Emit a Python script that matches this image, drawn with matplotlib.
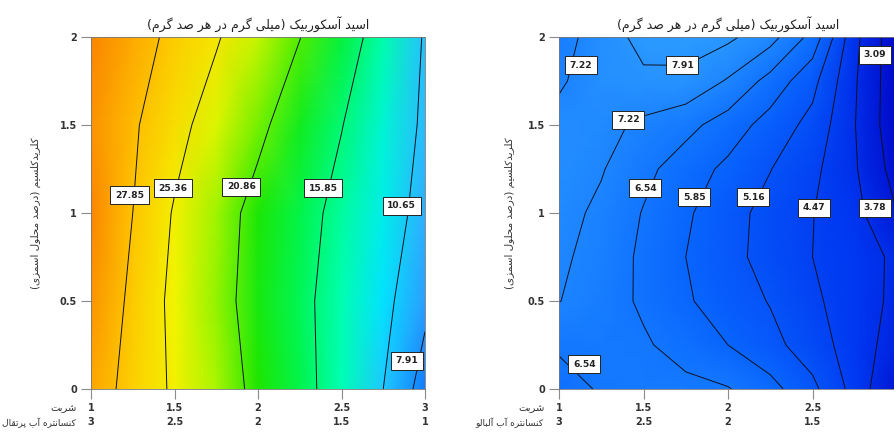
import matplotlib
matplotlib.use('Agg')
import matplotlib.pyplot as plt
import numpy as np
from matplotlib.colors import LinearSegmentedColormap, Normalize
from matplotlib import font_manager
from matplotlib.ft2font import FT2Font

# --- data ---
title_txt = 'اسید آسکوربیک (میلی گرم در هر صد گرم)'
ylabel_txt = 'کلریدکلسیم (درصد محلول اسمزی)'
row1_txt = 'شربت'
row2_left_txt = 'کنسانتره آب پرتقال'
row2_right_txt = 'کنسانتره آب آلبالو'

xticks = [1, 1.5, 2, 2.5, 3]
xticks_row2 = ['3', '2.5', '2', '1.5', '1']
yticks = [0, 0.5, 1, 1.5, 2]

x_grid = [1.0, 1.25, 1.5, 1.75, 2.0, 2.25, 2.5, 2.75, 3.0]

# left panel (orange juice concentrate)
y_left = [0.0, 0.5, 1.0, 1.5, 2.0]
z_left = [
    [29.05, 27.05, 24.98, 22.60, 20.04, 17.13, 13.99, 10.65, 6.80],
    [29.90, 27.33, 24.73, 22.10, 19.47, 16.81, 14.12, 11.42, 8.50],
    [30.55, 27.85, 25.14, 22.39, 19.76, 17.26, 14.73, 12.18, 9.60],
    [30.00, 28.15, 26.26, 24.09, 21.64, 18.88, 15.97, 13.02, 10.10],
    [30.50, 28.90, 27.26, 25.62, 23.35, 20.94, 17.70, 14.17, 10.35],
]
levels_left = [7.91, 10.65, 15.85, 20.86, 25.36, 27.85]
labels_left = [(27.85, 1.23, 1.10), (25.36, 1.49, 1.14), (20.86, 1.90, 1.15),
               (15.85, 2.39, 1.14), (10.65, 2.86, 1.04), (7.91, 2.89, 0.16)]

# right panel (sour cherry juice concentrate)
y_right = [0.0, 0.25, 0.5, 0.75, 1.0, 1.25, 1.5, 1.75, 2.0]
z_right = [
    [6.30, 6.60, 6.75, 6.70, 6.58, 6.08, 5.33, 4.22, 3.00],
    [6.62, 6.75, 6.62, 6.29, 5.85, 5.37, 4.80, 4.14, 3.45],
    [7.24, 6.84, 6.44, 5.93, 5.52, 5.12, 4.60, 4.10, 3.63],
    [7.35, 6.95, 6.41, 5.85, 5.37, 4.91, 4.47, 4.09, 3.65],
    [7.45, 7.08, 6.50, 5.95, 5.41, 4.93, 4.49, 3.98, 3.09],
    [7.50, 7.27, 6.72, 6.20, 5.69, 5.18, 4.64, 3.85, 2.80],
    [7.50, 7.45, 7.07, 6.74, 6.23, 5.56, 4.95, 3.80, 2.60],
    [7.10, 7.70, 7.80, 7.75, 7.15, 6.30, 5.37, 3.85, 2.60],
    [6.90, 7.60, 8.10, 8.20, 8.05, 7.48, 6.31, 3.95, 2.60],
]
levels_right = [3.09, 3.78, 4.47, 5.16, 5.85, 6.54, 7.22, 7.91]
labels_right = [(7.22, 1.13, 1.84), (7.91, 1.73, 1.84), (3.09, 2.87, 1.90),
                (7.22, 1.41, 1.53), (6.54, 1.51, 1.14), (5.85, 1.80, 1.09),
                (5.16, 2.15, 1.09), (4.47, 2.51, 1.03), (3.78, 2.87, 1.03),
                (6.54, 1.15, 0.14)]

# --- persian shaping (matplotlib has no complex text layout) ---
FORMS = {
    'ا': ('\uFE8D', '\uFE8E', None, None),
    'آ': ('\uFE81', '\uFE82', None, None),
    'ب': ('\uFE8F', '\uFE90', '\uFE91', '\uFE92'),
    'پ': ('\uFB56', '\uFB57', '\uFB58', '\uFB59'),
    'ت': ('\uFE95', '\uFE96', '\uFE97', '\uFE98'),
    'ح': ('\uFEA1', '\uFEA2', '\uFEA3', '\uFEA4'),
    'د': ('\uFEA9', '\uFEAA', None, None),
    'ر': ('\uFEAD', '\uFEAE', None, None),
    'ز': ('\uFEAF', '\uFEB0', None, None),
    'س': ('\uFEB1', '\uFEB2', '\uFEB3', '\uFEB4'),
    'ش': ('\uFEB5', '\uFEB6', '\uFEB7', '\uFEB8'),
    'ص': ('\uFEB9', '\uFEBA', '\uFEBB', '\uFEBC'),
    'ق': ('\uFED5', '\uFED6', '\uFED7', '\uFED8'),
    'ک': ('\uFB8E', '\uFB8F', '\uFB90', '\uFB91'),
    'گ': ('\uFB92', '\uFB93', '\uFB94', '\uFB95'),
    'ل': ('\uFEDD', '\uFEDE', '\uFEDF', '\uFEE0'),
    'م': ('\uFEE1', '\uFEE2', '\uFEE3', '\uFEE4'),
    'ن': ('\uFEE5', '\uFEE6', '\uFEE7', '\uFEE8'),
    'و': ('\uFEED', '\uFEEE', None, None),
    'ه': ('\uFEE9', '\uFEEA', '\uFEEB', '\uFEEC'),
    'ی': ('\uFBFC', '\uFBFD', '\uFBFE', '\uFBFF'),
}
# fall back to arabic letters if the font lacks the persian forms
charmap = FT2Font(font_manager.findfont('DejaVu Sans')).get_charmap()
if 0xFB8E not in charmap:
    FORMS['ک'] = ('\uFED9', '\uFEDA', '\uFEDB', '\uFEDC')
    FORMS['گ'] = FORMS['ک']
if 0xFBFC not in charmap:
    FORMS['ی'] = ('\uFEEF', '\uFEF0', '\uFEF3', '\uFEF4')
if 0xFB56 not in charmap:
    FORMS['پ'] = FORMS['ب']


def shape(text):
    out = []
    for i, ch in enumerate(text):
        f = FORMS.get(ch)
        if f is None:
            out.append(ch)
            continue
        prev = FORMS.get(text[i-1]) if i > 0 else None
        nxt = FORMS.get(text[i+1]) if i + 1 < len(text) else None
        jp = prev is not None and prev[2] is not None
        jn = nxt is not None and f[2] is not None
        if jp and jn:
            out.append(f[3])
        elif jp:
            out.append(f[1])
        elif jn:
            out.append(f[2])
        else:
            out.append(f[0])
    s = ''.join(reversed(out))
    return s.translate(str.maketrans('()', ')('))


# shared colour scale (blue -> cyan -> green -> yellow -> orange)
stops = [(2.5, '#0008c8'), (4.0, '#0036f0'), (6.0, '#0a6aff'), (8.0, '#2a98ff'),
         (10.0, '#30b6ff'), (11.5, '#00e6ff'), (14.0, '#00ffb4'), (17.0, '#00f550'),
         (20.0, '#1ee600'), (22.5, '#a5f500'), (24.8, '#f2f500'), (27.8, '#ffc400'),
         (31.5, '#f87000')]
vmin, vmax = stops[0][0], stops[-1][0]
cmap = LinearSegmentedColormap.from_list(
    'de', [((v - vmin) / (vmax - vmin), c) for v, c in stops])
norm = Normalize(vmin, vmax)

fig = plt.figure(figsize=(8.94, 4.36), dpi=100)
ax1 = fig.add_axes([0.1018, 0.1078, 0.3736, 0.8073])
ax2 = fig.add_axes([0.6253, 0.1078, 0.3781, 0.8073])


def panel(ax, ys, z, levels, spots, row2, ylab_x):
    X, Y = np.meshgrid(x_grid, ys)
    Z = np.array(z)
    ax.pcolormesh(X, Y, Z, shading='gouraud', cmap=cmap, norm=norm)
    # one contour set per level, so each label lands on its own level
    sets = {}
    for lev in levels:
        sets[lev] = ax.contour(X, Y, Z, levels=[lev], colors='#101020', linewidths=0.7)
    for lev, x, y in spots:
        texts = ax.clabel(sets[lev], manual=[(x, y)], inline=False,
                          fmt='%.2f', fontsize=6.6)
        t = texts[-1]  # the list is cumulative per contour set
        t.set_position((x, y))
        t.set_rotation(0)
        t.set_clip_on(False)
        t.set_color('#222222')
        t.set_fontweight('bold')
        t.set_bbox(dict(boxstyle='square,pad=0.5', fc='white', ec='#222222', lw=0.7))
    ax.set_xlim(1, 3)
    ax.set_ylim(0, 2)
    ax.set_xticks(xticks)
    ax.set_xticklabels([f'{a:g}\n{b}' for a, b in zip(xticks, xticks_row2)],
                       linespacing=1.55)
    ax.set_yticks(yticks)
    ax.set_yticklabels([f'{v:g}' for v in yticks])
    ax.tick_params(direction='out', length=7, width=0.8, color='#8a8a8a',
                   labelsize=7, labelcolor='#333333', pad=3)
    for t in ax.get_xticklabels() + ax.get_yticklabels():
        t.set_fontweight('bold')
    for s in ax.spines.values():
        s.set_color('#777777')
        s.set_linewidth(0.6)
    ax.set_title(shape(title_txt), fontsize=9, pad=6, color='#222222')
    ax.set_ylabel(shape(ylabel_txt), fontsize=7.5, color='#333333')
    ax.yaxis.set_label_coords(ylab_x, 0.5)
    ax.text(-0.042, -0.054, shape(row1_txt), transform=ax.transAxes,
            ha='right', va='center', fontsize=7.2, color='#333333')
    ax.text(-0.045, -0.097, shape(row2), transform=ax.transAxes,
            ha='right', va='center', fontsize=6.6, color='#333333')


panel(ax1, y_left, z_left, levels_left, labels_left, row2_left_txt, -0.15)
panel(ax2, y_right, z_right, levels_right, labels_right, row2_right_txt, -0.13)

fig.savefig('out.png', dpi=100)
